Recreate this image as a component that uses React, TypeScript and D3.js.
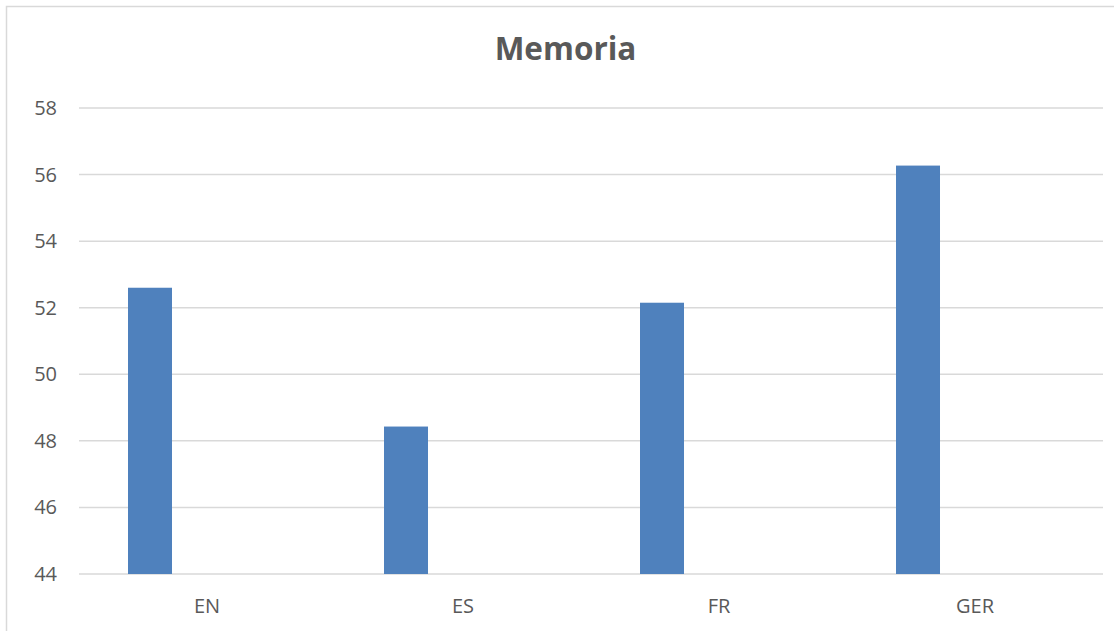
import React from "react";
import * as d3 from "d3";

const categories = ["EN", "ES", "FR", "GER"];
const values = [52.6, 48.43, 52.15, 56.27];
const yTicks = [44, 46, 48, 50, 52, 54, 56, 58];
const title = "Memoria";

const W = 1114;
const H = 631;
const FONT = "'Open Sans', 'Noto Sans', sans-serif";
const TEXT = "#595959";
const GRID = "#d9d9d9";
const BAR = "#4f81bd";

export default function App() {
  const x = d3.scaleBand<string>().domain(categories).range([79, 1103]).padding(0);
  const y = d3.scaleLinear().domain([44, 58]).range([574, 108]);
  const bw = x.bandwidth();
  const barOffset = bw * 0.1914;
  const barWidth = bw * 0.1719;

  return (
    <div style={{ position: "absolute", left: 0, top: 0 }}>
      <svg width={W} height={H} style={{ display: "block", background: "#fff" }}>
        <rect x={6.5} y={6.5} width={1300} height={800} fill="#fff" stroke={GRID} strokeWidth={1.5} />
        <text x={565.5} y={60} textAnchor="middle" fontFamily={FONT} fontWeight={700} fontSize={31.5} fill={TEXT}>
          {title}
        </text>
        {yTicks.map((t) => (
          <g key={t}>
            <line x1={79} x2={1103} y1={y(t)} y2={y(t)} stroke={GRID} strokeWidth={1.5} />
            <text x={57} y={y(t)} dy="0.35em" textAnchor="end" fontFamily={FONT} fontSize={20} fill={TEXT}>
              {t}
            </text>
          </g>
        ))}
        {categories.map((c, i) => (
          <rect
            key={c}
            x={(x(c) ?? 0) + barOffset}
            y={y(values[i])}
            width={barWidth}
            height={y(44) - y(values[i])}
            fill={BAR}
          />
        ))}
        {categories.map((c) => (
          <text
            key={c}
            x={(x(c) ?? 0) + bw / 2}
            y={613}
            textAnchor="middle"
            fontFamily={FONT}
            fontSize={20}
            fill={TEXT}
          >
            {c}
          </text>
        ))}
      </svg>
    </div>
  );
}
